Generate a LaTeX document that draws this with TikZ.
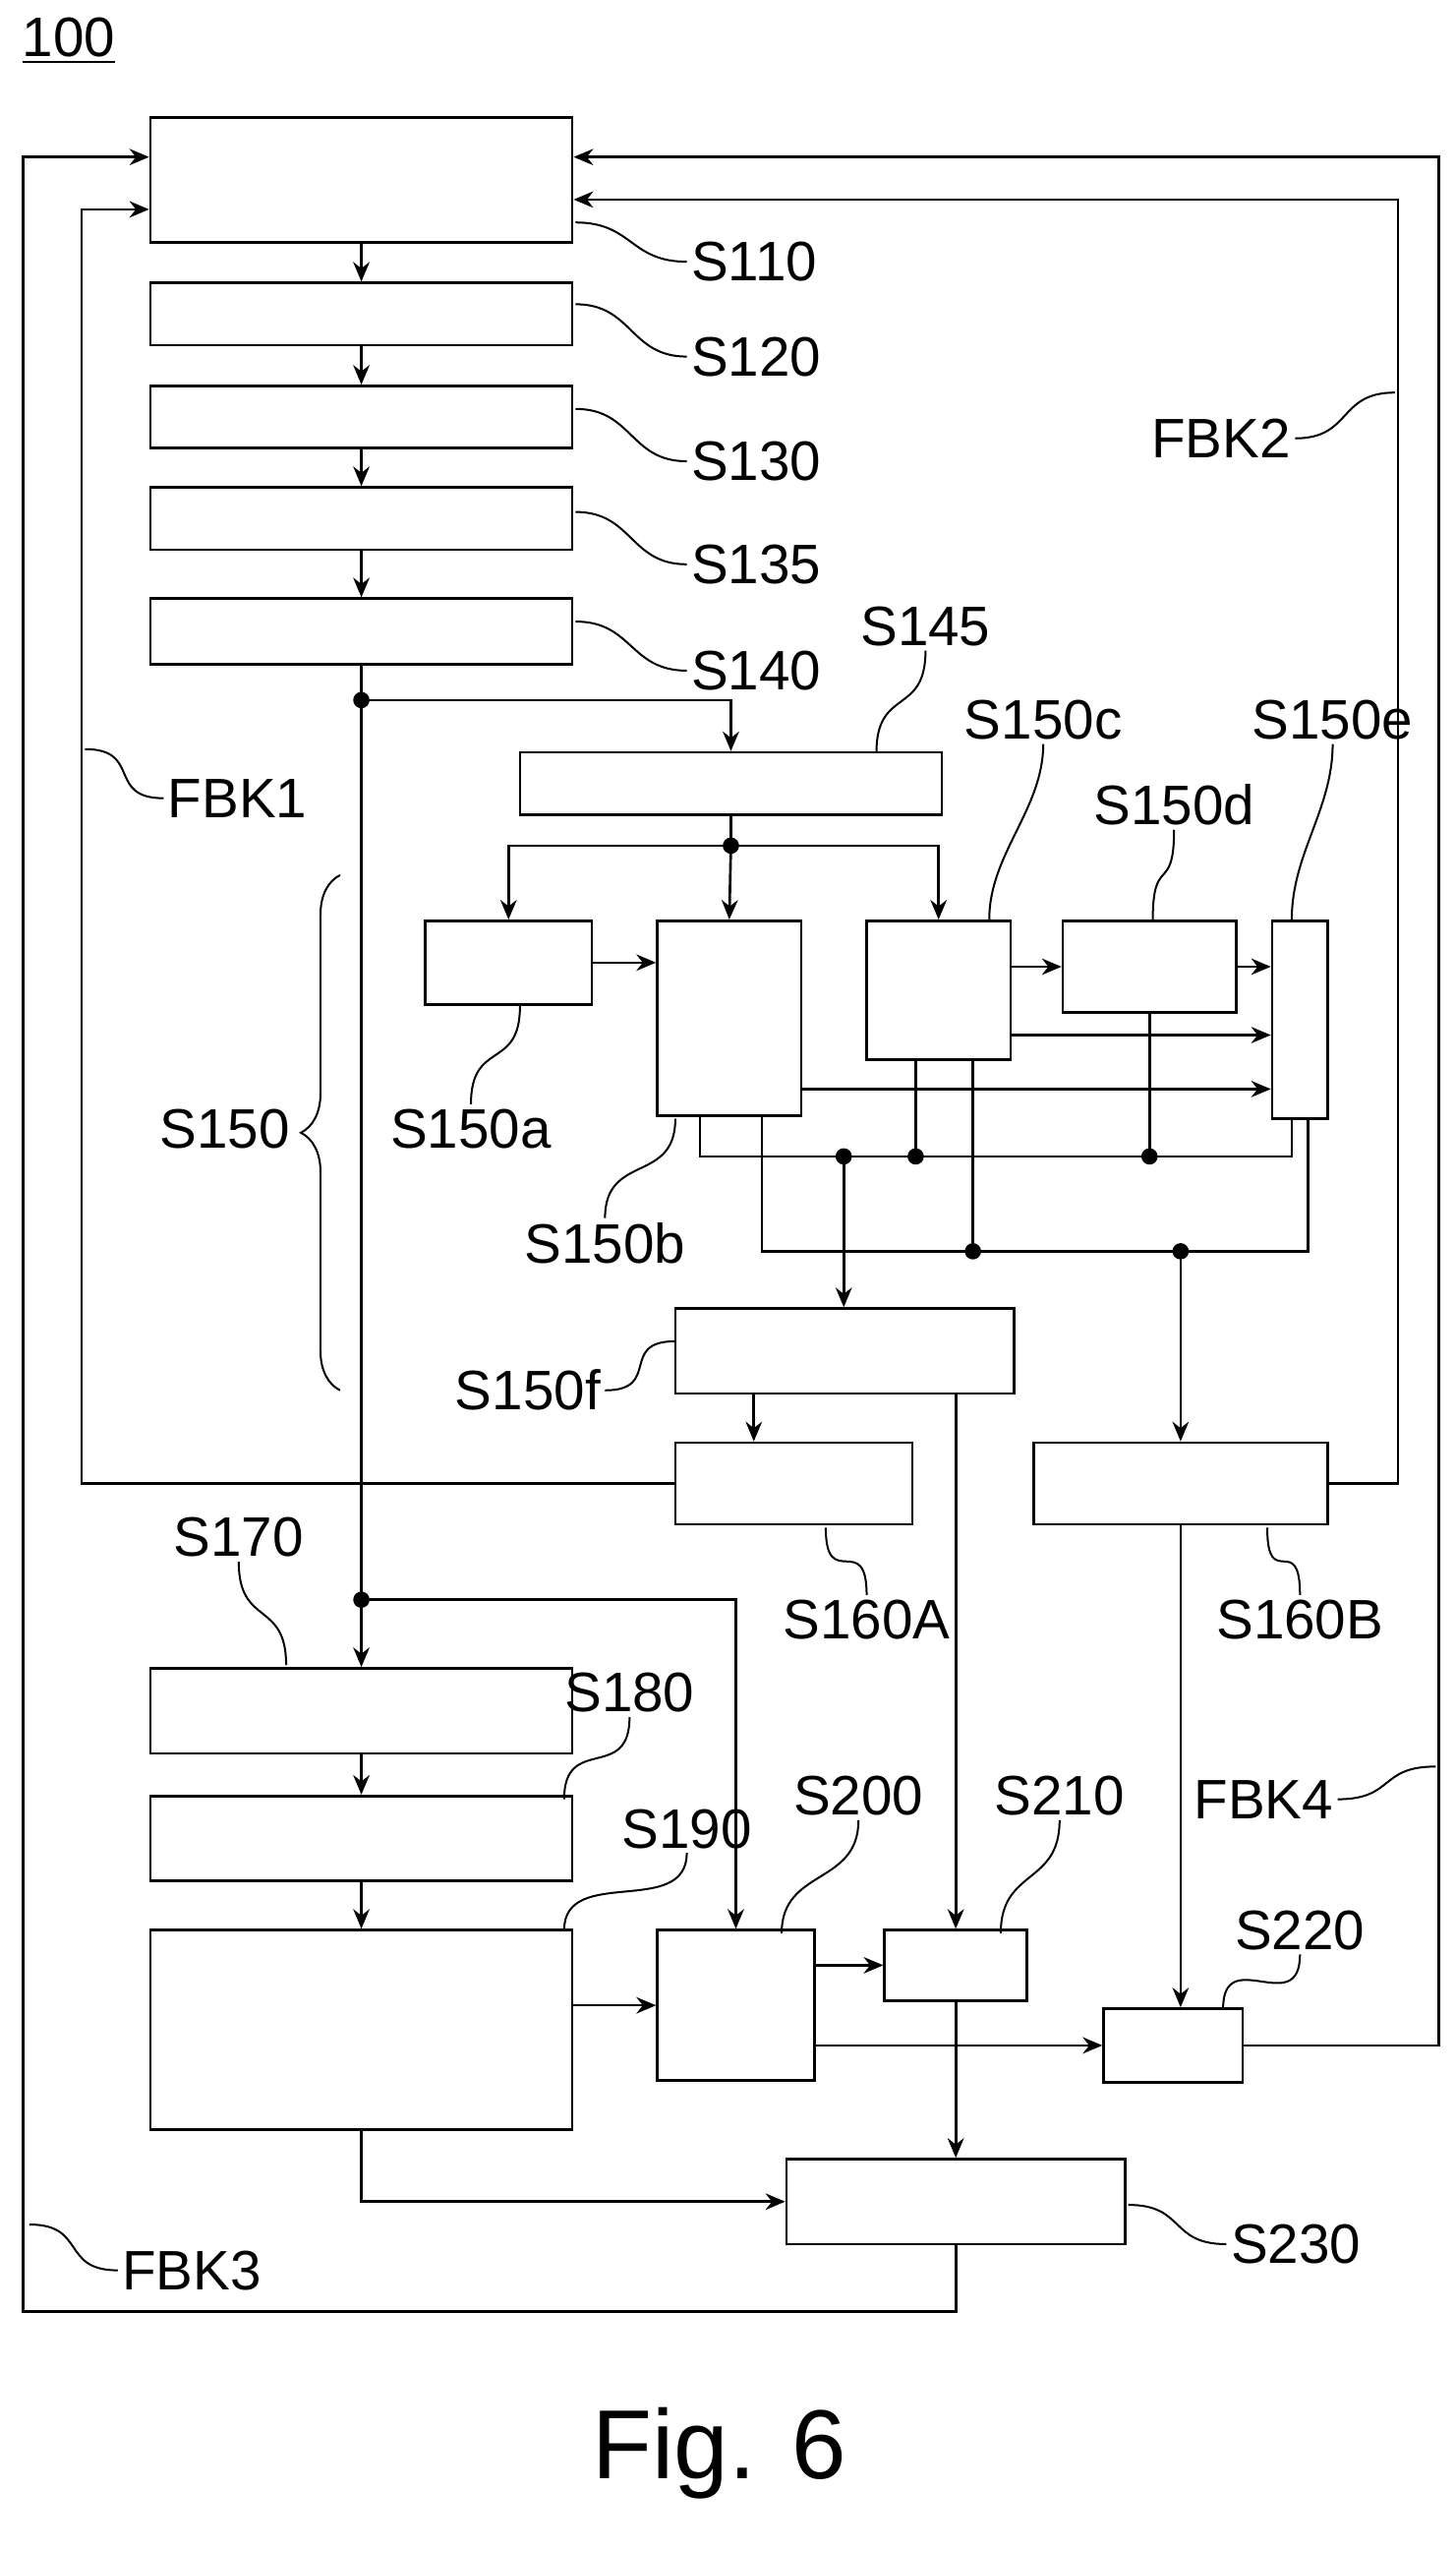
\documentclass[tikz,border=0pt]{standalone}
\usepackage{fontspec}
\setmainfont{Liberation Sans}
\usetikzlibrary{arrows.meta,calc,decorations.pathreplacing}
\tikzset{
  >=Stealth,
  box/.style={draw, inner sep=0pt},
  arr/.style={-{Stealth[length=6pt,width=5pt]}},
  lead/.style={line width=0.6pt},
  lbl/.style={font=\fontsize{17}{19}\selectfont, inner sep=1pt},
  dot/.style={circle, fill, inner sep=0pt, minimum size=5pt}
}
\newcommand\stepbox[5]{\node[box,minimum width={(#4-#2)*0.5pt},minimum height={(#5-#3)*0.5pt}] (#1) at ({(#2+#4)/2},{(#3+#5)/2}) {};}
\newcommand\lead[2]{\draw[lead] (#1) .. controls +(35,0) and +(-35,0) .. (#2);}
\newcommand\leadv[2]{\draw[lead] (#1) .. controls +(0,40) and +(0,-40) .. (#2);}

\begin{document}
\begin{tikzpicture}[x=0.5pt,y=-0.5pt,line width=0.8pt]
\useasboundingbox (0,0) rectangle (890,1559);
% title
\node[lbl] (title) at (42,25) {\underline{100}};

% step boxes
\stepbox{s110}{92}{72}{350}{148}
\stepbox{s120}{92}{173}{350}{211}
\stepbox{s130}{92}{236}{350}{274}
\stepbox{s135}{92}{298}{350}{336}
\stepbox{s140}{92}{366}{350}{406}
\stepbox{s145}{318}{460}{576}{498}
\stepbox{s150a}{260}{563}{362}{614}
\stepbox{s150b}{402}{563}{490}{682}
\stepbox{s150c}{530}{563}{618}{648}
\stepbox{s150d}{650}{563}{756}{619}
\stepbox{s150e}{778}{563}{812}{684}
\stepbox{s150f}{413}{800}{620}{852}
\stepbox{s160a}{413}{882}{558}{932}
\stepbox{s160b}{632}{882}{812}{932}
\stepbox{s170}{92}{1020}{350}{1072}
\stepbox{s180}{92}{1098}{350}{1150}
\stepbox{s190}{92}{1180}{350}{1302}
\stepbox{s200}{402}{1180}{498}{1272}
\stepbox{s210}{541}{1180}{628}{1223}
\stepbox{s220}{675}{1228}{760}{1273}
\stepbox{s230}{481}{1320}{688}{1372}

% junctions
\coordinate (d1) at (221,428);
\coordinate (d2) at (221,978);
\coordinate (d3) at (447,517);
\coordinate (ja) at (428,707);
\coordinate (jb) at (790,707);
\coordinate (j1) at (516,707);
\coordinate (j2) at (560,707);
\coordinate (j3) at (703,707);
\coordinate (ka) at (466,765);
\coordinate (kb) at (800,765);
\coordinate (k1) at (595,765);
\coordinate (k2) at (722,765);
\coordinate (f1) at (50,128);
\coordinate (f2) at (855,122);
\coordinate (f3a) at (14,1413);
\coordinate (f3b) at (14,96);
\coordinate (f4) at (880,96);

% main chain
\draw[arr] (s110) -- (s120);
\draw[arr] (s120) -- (s130);
\draw[arr] (s130) -- (s135);
\draw[arr] (s135) -- (s140);
\draw[arr] (s140.south) -- (s170.north);
\draw[arr] (d1) -| (s145.north);
\draw (s145.south) -- (d3);
\draw[arr] (d3) -| (s150a.north);
\draw[arr] (d3) -- (s150b.north);
\draw[arr] (d3) -| (s150c.north);
\draw[arr] (s150a.east) -- (s150a.east -| s150b.west);
\draw[arr] (s150c.east |- s150d.west) -- (s150d.west);
\draw[arr] (s150d.east) -- (s150d.east -| s150e.west);
\draw[arr] ($(s150c.south east)+(0,-16)$) coordinate (t1) -- (t1 -| s150e.west);
\draw[arr] ($(s150b.south east)+(0,-17)$) coordinate (t2) -- (t2 -| s150e.west);
\draw (s150b.south -| ja) -- (ja) -- (jb) -- (s150e.south -| jb);
\draw (s150c.south -| j2) -- (j2);
\draw (s150d.south -| j3) -- (j3);
\draw (s150b.south -| ka) -- (ka) -- (kb) -- (s150e.south -| kb);
\draw (s150c.south -| k1) -- (k1);
\draw[arr] (j1) -- (s150f.north -| j1);
\draw[arr] (k2) -- (s160b.north -| k2);
\draw[arr] (s150f.south -| 461,0) -- (s160a.north -| 461,0);
\draw[arr] (s150f.south -| s210.north) -- (s210.north);

% lower part
\draw[arr] (d2) -| (s200.north);
\draw[arr] (s170) -- (s180);
\draw[arr] (s180) -- (s190);
\draw[arr] (s190.east |- s200.west) -- (s200.west);
\draw[arr] (s200.east |- s210.west) -- (s210.west);
\draw[arr] (s200.east |- s220.west) -- (s220.west);
\draw[arr] (s210.south) -- (s230.north);
\draw[arr] (s190.south) |- (s230.west);
\draw[arr] (s160b.south) -- (s160b.south |- s220.north);

% feedback loops
\draw[arr] (s160a.west) -| (f1) -- (f1 -| s110.west);
\draw[arr] (s160b.east) -| (f2) -- (f2 -| s110.east);
\draw[arr] (s230.south) |- (f3a) -- (f3b) -- (f3b -| s110.west);
\draw[arr] (s220.east) -| (f4) -- (f4 -| s110.east);

% dots
\foreach \d in {d1,d2,d3,j1,j2,j3,k1,k2} \node[dot] at (\d) {};

% labels
\node[lbl,anchor=west] (l110) at (420,160) {S110};
\node[lbl,anchor=west] (l120) at (420,218) {S120};
\node[lbl,anchor=west] (l130) at (420,282) {S130};
\node[lbl,anchor=west] (l135) at (420,345) {S135};
\node[lbl,anchor=west] (l140) at (420,410) {S140};
\lead{352,136}{l110.west}
\lead{352,186}{l120.west}
\lead{352,250}{l130.west}
\lead{352,313}{l135.west}
\lead{352,380}{l140.west}
\node[lbl] (l145) at (566,383) {S145};
\node[lbl] (l150c) at (638,440) {S150c};
\node[lbl] (l150d) at (718,492) {S150d};
\node[lbl] (l150e) at (815,440) {S150e};
\leadv{l145.south}{536,460}
\leadv{l150c.south}{605,562}
\leadv{l150d.south}{705,562}
\leadv{l150e.south}{790,562}
\node[lbl] (l150a) at (288,690) {S150a};
\node[lbl] (l150b) at (370,760) {S150b};
\node[lbl] (l160a) at (530,990) {S160A};
\node[lbl] (l160b) at (795,990) {S160B};
\leadv{318,615}{l150a.north}
\leadv{413,684}{l150b.north}
\leadv{505,934}{l160a.north}
\leadv{775,934}{l160b.north}
\node[lbl,anchor=east] (l150f) at (370,850) {S150f};
\lead{l150f.east}{413,820}
\node[lbl] (l170) at (146,940) {S170};
\node[lbl] (l180) at (385,1035) {S180};
\node[lbl] (l190) at (420,1118) {S190};
\node[lbl] (l200) at (525,1098) {S200};
\node[lbl] (l210) at (648,1098) {S210};
\node[lbl] (l220) at (795,1180) {S220};
\leadv{l170.south}{175,1018}
\leadv{l180.south}{345,1100}
\leadv{l190.south}{345,1180}
\leadv{l200.south}{478,1182}
\leadv{l210.south}{612,1182}
\leadv{l220.south}{748,1228}
\node[lbl,anchor=west] (l230) at (750,1372) {S230};
\lead{690,1348}{l230.west}
\node[lbl,anchor=west] (fbk1) at (100,488) {FBK1};
\lead{52,458}{fbk1.west}
\node[lbl,anchor=east] (fbk2) at (792,268) {FBK2};
\lead{fbk2.east}{853,240}
\node[lbl,anchor=west] (fbk3) at (72,1388) {FBK3};
\lead{18,1360}{fbk3.west}
\node[lbl,anchor=east] (fbk4) at (818,1100) {FBK4};
\lead{fbk4.east}{878,1080}

% brace
\draw[lead,decorate,decoration={brace,amplitude=12pt}] (208,850) -- (208,535) coordinate (br);
\node[lbl,anchor=east] (l150) at (180,690) {S150};

\node[font=\fontsize{30}{34}\selectfont] (fig) at (440,1500) {Fig. 6};
\end{tikzpicture}
\end{document}
